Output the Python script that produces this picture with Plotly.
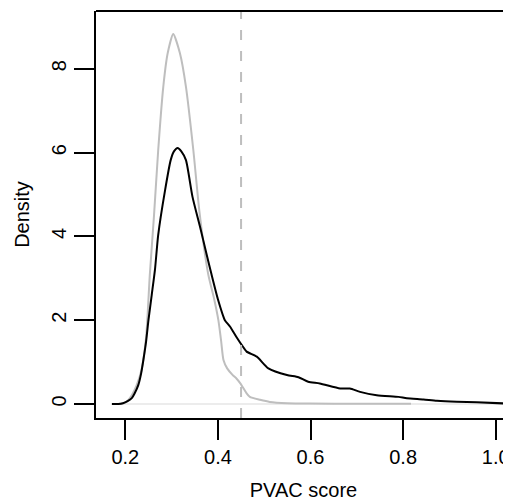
import plotly.graph_objects as go

# Data
black_x = [0.171, 0.185, 0.195, 0.205, 0.214, 0.220, 0.228, 0.234, 0.239, 0.245, 0.250, 0.257,
           0.264, 0.271, 0.286, 0.298, 0.305, 0.313, 0.321, 0.331, 0.345, 0.362, 0.375, 0.386,
           0.400, 0.415, 0.426, 0.440, 0.452, 0.462, 0.484, 0.509, 0.549, 0.574, 0.595, 0.620,
           0.664, 0.685, 0.707, 0.743, 0.790, 0.808, 0.844, 0.873, 0.916, 0.959, 1.016]
black_y = [0.0, 0.0, 0.02, 0.07, 0.14, 0.25, 0.45, 0.72, 1.05, 1.5, 2.0, 2.6,
           3.2, 4.03, 5.11, 5.82, 6.03, 6.11, 6.03, 5.82, 4.95, 4.2, 3.6, 3.1,
           2.5, 2.0, 1.85, 1.6, 1.4, 1.25, 1.13, 0.85, 0.69, 0.64, 0.53, 0.49,
           0.37, 0.37, 0.29, 0.21, 0.17, 0.14, 0.11, 0.08, 0.055, 0.04, 0.015]

gray_x = [0.184, 0.196, 0.205, 0.214, 0.2246, 0.235, 0.245, 0.253, 0.262, 0.271, 0.282, 0.2915,
          0.3035, 0.318, 0.331, 0.347, 0.360, 0.379, 0.392, 0.401, 0.407, 0.412, 0.420, 0.432,
          0.440, 0.448, 0.462, 0.469, 0.491, 0.512, 0.550, 0.600, 0.700, 0.817]
gray_y = [0.0, 0.02, 0.08, 0.21, 0.45, 0.81, 1.6, 3.1, 4.5, 6.05, 7.57, 8.37,
          8.83, 8.37, 7.57, 6.05, 4.6, 3.1, 2.5, 2.0, 1.5, 1.05, 0.85, 0.69,
          0.61, 0.5, 0.255, 0.17, 0.10, 0.05, 0.02, 0.01, 0.005, 0.005]

x_ticks = [0.2, 0.4, 0.6, 0.8, 1.0]
x_tick_labels = ["0.2", "0.4", "0.6", "0.8", "1.0"]
y_ticks = [0, 2, 4, 6, 8]
y_tick_labels = ["0", "2", "4", "6", "8"]
cutoff = 0.45
zero_line_x = [0.171, 1.05]
zero_line_y = [0, 0]

FONT = "Liberation Sans, Arial, Helvetica, sans-serif"

fig = go.Figure()
fig.add_trace(go.Scatter(x=zero_line_x, y=zero_line_y, mode="lines",
                         line=dict(color="#e6e6e6", width=1.5), hoverinfo="skip"))
fig.add_trace(go.Scatter(x=gray_x, y=gray_y, mode="lines",
                         line=dict(color="#bebebe", width=2, shape="spline", smoothing=0.6)))
fig.add_trace(go.Scatter(x=black_x, y=black_y, mode="lines",
                         line=dict(color="black", width=2, shape="spline", smoothing=0.6)))

fig.add_shape(type="line", xref="x", yref="paper", x0=cutoff, x1=cutoff, y0=0, y1=1,
              line=dict(color="#bebebe", width=2, dash="10px,11px"))
# top border of the box
fig.add_shape(type="line", xref="paper", yref="paper", x0=0, x1=1, y0=1, y1=1,
              line=dict(color="black", width=2))

# page body has an 8px default margin, so the figure is 8px smaller than the window
fig.update_layout(
    width=503, height=493,
    margin=dict(l=88, r=0, t=3, b=83, autoexpand=False),
    paper_bgcolor="white", plot_bgcolor="white",
    showlegend=False,
    font=dict(family=FONT, size=20, color="black"),
    xaxis=dict(range=[0.1367, 1.033], tickvals=x_ticks, ticktext=x_tick_labels,
               ticks="outside", ticklen=20, tickwidth=2, tickcolor="black",
               tickfont=dict(family=FONT, size=20),
               showline=True, linecolor="black", linewidth=2, mirror=False,
               showgrid=False, zeroline=False, automargin=False,
               title=dict(text="PVAC score", standoff=18, font=dict(family=FONT, size=20))),
    yaxis=dict(range=[-0.334, 9.379], tickvals=y_ticks, ticktext=y_tick_labels,
               ticks="outside", ticklen=20, tickwidth=2, tickcolor="black", tickangle=-90,
               tickfont=dict(family=FONT, size=20),
               showline=True, linecolor="black", linewidth=2, mirror=False,
               showgrid=False, zeroline=False, automargin=False,
               title=dict(text="Density", standoff=13, font=dict(family=FONT, size=20))),
)

fig.write_html("out.html")
